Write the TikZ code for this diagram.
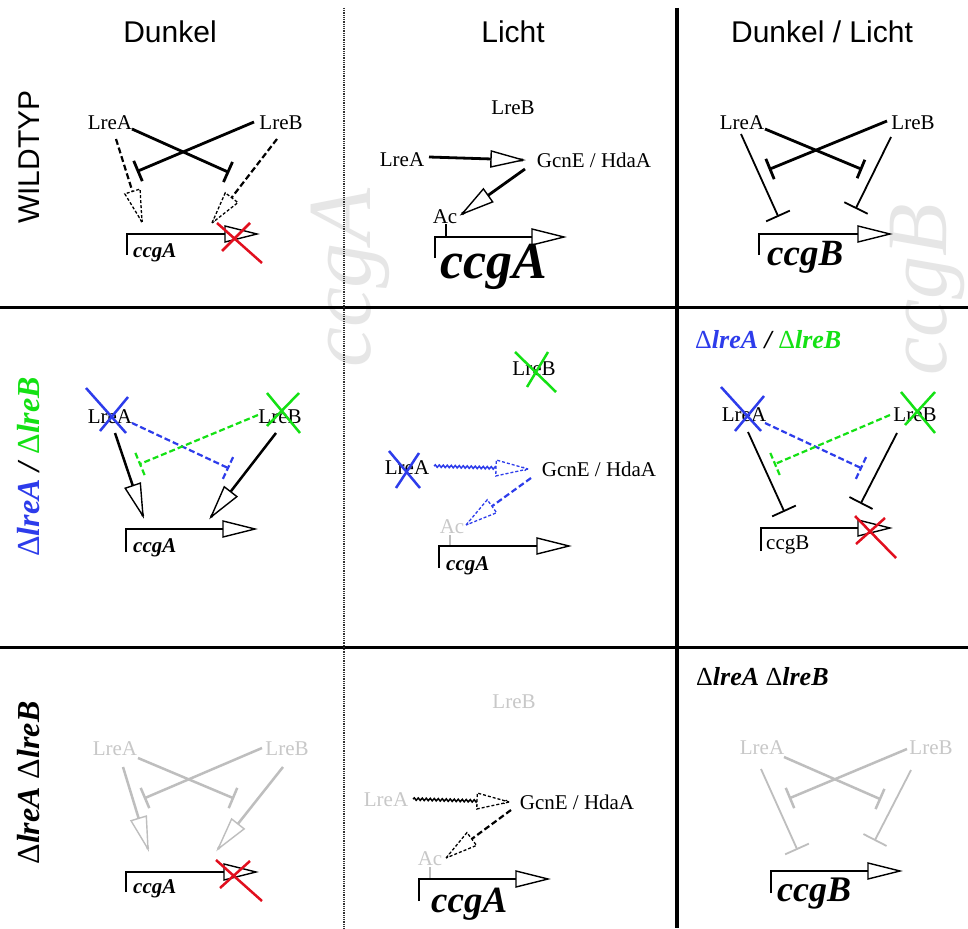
\documentclass[tikz,border=0pt]{standalone}
\usepackage{fontspec}
\setmainfont{Liberation Serif}
\newfontfamily\hdr{Liberation Sans}
\usetikzlibrary{decorations.markings,decorations.pathmorphing}
\newcommand\myfs[1]{\fontsize{#1}{#1}\selectfont}
\definecolor{myblue}{RGB}{45,60,235}
\definecolor{mygreen}{RGB}{20,225,20}
\definecolor{myred}{RGB}{225,15,30}
\definecolor{lgray}{RGB}{190,190,190}
\definecolor{tgray}{RGB}{200,200,200}
\definecolor{wmgray}{RGB}{230,230,230}
\begin{document}
\begin{tikzpicture}[x=1pt,y=-1pt,
  lbl/.style={font={\myfs{21}}, inner sep=0pt},
  glbl/.style={lbl, text=tgray},
  hd/.style={font={\hdr\myfs{30}}, inner sep=0pt},
  rot/.style={rotate=90, inner sep=0pt},
  gl/.style={font={\myfs{21}\bfseries\itshape}, anchor=base west, inner sep=0pt},
  wm/.style={rotate=90, font={\myfs{90}\itshape}, text=wmgray, inner sep=0pt, anchor=base},
  thk/.style={line width=2.8pt},
  thn/.style={line width=1.8pt},
  dsh/.style={line width=2.2pt, dash pattern=on 6pt off 3pt},
  inh/.style={postaction={decoration={markings, mark=at position 1 with {\draw (0,-#1)--(0,#1);}}, decorate}},
  inh/.default=11,
  ohead/.style={postaction={decoration={markings, mark=at position 1 with {\draw[line width=1.4pt, solid, fill=white, line join=miter] (0,0)--(-32,8)--(-32,-8)--cycle;}}, decorate}},
  dhead/.style={postaction={decoration={markings, mark=at position 1 with {\draw[line width=1.3pt, dash pattern=on 3pt off 2pt, fill=white, line join=miter] (0,0)--(-32,8)--(-32,-8)--cycle;}}, decorate}},
  wavy/.style={postaction={draw, decorate, decoration={snake, amplitude=1.2pt, segment length=4pt}}},
  gene/.style={line width=2.8pt, ohead},
  rx/.style={myred, line width=2.5pt},
  bx/.style={myblue, line width=2.5pt},
  gx/.style={mygreen, line width=2.5pt}
]
\useasboundingbox (0,0) rectangle (968,928);
\fill[white] (0,0) rectangle (968,928);
% watermarks
\node[wm] (wmA) at (370,278) {ccgA};
\node[wm, font={\myfs{86}\itshape}] (wmB) at (946,290) {ccgB};
% grid
\draw[line width=3pt] (0,307) -- (968,307);
\draw[line width=3pt] (0,647) -- (968,647);
\draw[line width=2pt, black!80, dash pattern=on 0.9pt off 0.9pt] (344,8) -- (344,928);
\draw[line width=4pt] (677,8) -- (677,928);
% headers
\node[hd] (h1) at (170,32) {Dunkel};
\node[hd] (h2) at (513,32) {Licht};
\node[hd] (h3) at (822,32) {Dunkel / Licht};
% row labels
\node[rot, font={\hdr\myfs{30}}] (r1) at (29,157) {WILDTYP};
\node[rot, font={\myfs{32}\bfseries\itshape}] (r2) at (29,467) {\textcolor{myblue}{{\normalfont Δ}lreA} / \textcolor{mygreen}{{\normalfont Δ}lreB}};
\node[rot, font={\myfs{32}\bfseries\itshape}] (r3) at (29,783) {{\normalfont Δ}lreA {\normalfont Δ}lreB};

% ---------- cell 1,1
\node[lbl] (A11) at (110,123) {LreA};
\node[lbl] (B11) at (281,123) {LreB};
\coordinate (A11i) at (132,129); \coordinate (A11j) at (228,172);
\coordinate (B11i) at (254,122); \coordinate (B11j) at (138,171);
\coordinate (A11d) at (116,139); \coordinate (A11t) at (142,222);
\coordinate (B11d) at (277,139); \coordinate (B11t) at (212,223);
\coordinate (P11) at (127,255); \coordinate (T11) at (257,234);
\draw[thk, inh] (A11i) -- (A11j);
\draw[thk, inh] (B11i) -- (B11j);
\draw[dsh, dhead] (A11d) -- (A11t);
\draw[dsh, dhead] (B11d) -- (B11t);
\draw[gene] (P11) |- (T11);
\node[gl] (g11) at (133,257) {ccgA};
\draw[rx] (217,223) -- (262,263) (250,223) -- (222,251);

% ---------- cell 1,2
\node[lbl] (B12) at (513,108) {LreB};
\node[lbl] (A12) at (402,160) {LreA};
\node[lbl] (G12) at (594,160) {GcnE / HdaA};
\node[lbl] (Ac12) at (445,217) {Ac};
\coordinate (A12o) at (429,157); \coordinate (G12i) at (523,160);
\coordinate (G12o) at (525,169); \coordinate (Ac12i) at (462,214);
\coordinate (Ac12b) at (446,224); \coordinate (Ac12c) at (446,237);
\coordinate (P12) at (435,258); \coordinate (T12) at (564,237);
\draw[thk, ohead] (A12o) -- (G12i);
\draw[thk, ohead] (G12o) -- (Ac12i);
\draw[thn] (Ac12b) -- (Ac12c);
\draw[gene] (P12) |- (T12);
\node[gl, font={\myfs{52}\bfseries\itshape}] (g12) at (440,278) {ccgA};

% ---------- cell 1,3
\node[lbl] (A13) at (742,123) {LreA};
\node[lbl] (B13) at (913,123) {LreB};
\coordinate (A13i) at (765,129); \coordinate (A13j) at (861,169);
\coordinate (B13i) at (887,121); \coordinate (B13j) at (770,169);
\coordinate (A13d) at (741,134); \coordinate (A13t) at (778,216);
\coordinate (B13d) at (891,137); \coordinate (B13t) at (856,208);
\coordinate (P13) at (759,255); \coordinate (T13) at (890,234);
\draw[thk, inh=10] (A13i) -- (A13j);
\draw[thk, inh=11] (B13i) -- (B13j);
\draw[thn, inh=13] (A13d) -- (A13t);
\draw[thn, inh=13] (B13d) -- (B13t);
\draw[gene] (P13) |- (T13);
\node[gl, font={\myfs{37}\bfseries\itshape}] (g13) at (767,265) {ccgB};

% ---------- cell 2,1
\node[lbl] (A21) at (110,417) {LreA};
\node[lbl] (B21) at (280,417) {LreB};
\draw[bx] (86,388) -- (126,433) (128,397) -- (100,431);
\draw[gx] (267,393) -- (300,433) (299,393) -- (267,426);
\coordinate (A21i) at (132,423); \coordinate (A21j) at (228,468);
\coordinate (B21i) at (258,415); \coordinate (B21j) at (140,464);
\coordinate (A21d) at (115,433); \coordinate (A21t) at (143,516);
\coordinate (B21d) at (276,433); \coordinate (B21t) at (211,517);
\coordinate (P21) at (126,552); \coordinate (T21) at (255,529);
\draw[dsh, myblue, inh=12] (A21i) -- (A21j);
\draw[dsh, mygreen, inh=12] (B21i) -- (B21j);
\draw[line width=2.5pt, ohead] (A21d) -- (A21t);
\draw[line width=2.5pt, ohead] (B21d) -- (B21t);
\draw[gene] (P21) |- (T21);
\node[gl] (g21) at (133,552) {ccgA};

% ---------- cell 2,2
\node[lbl] (B22) at (534,369) {LreB};
\draw[gx] (515,352) -- (556,392) (548,352) -- (527,387);
\node[lbl] (A22) at (407,468) {LreA};
\draw[bx] (389,451) -- (420,488) (419,453) -- (396,488);
\node[lbl] (G22) at (599,469) {GcnE / HdaA};
\node[glbl] (Ac22) at (452,527) {Ac};
\coordinate (A22o) at (434,466); \coordinate (G22i) at (528,469);
\coordinate (G22o) at (531,478); \coordinate (Ac22i) at (466,525);
\coordinate (Ac22b) at (450,535); \coordinate (Ac22c) at (450,546);
\coordinate (P22) at (439,568); \coordinate (T22) at (569,546);
\path[myblue, line width=1.5pt, wavy, dhead] (A22o) -- (G22i);
\draw[dsh, myblue, dhead] (G22o) -- (Ac22i);
\draw[thn, lgray] (Ac22b) -- (Ac22c);
\draw[gene] (P22) |- (T22);
\node[gl] (g22) at (446,570) {ccgA};

% ---------- cell 2,3
\node[font={\myfs{26}\bfseries\itshape}, anchor=west, inner sep=0pt] (l23) at (695,340) {\textcolor{myblue}{{\normalfont Δ}lreA} / \textcolor{mygreen}{{\normalfont Δ}lreB}};
\node[lbl] (A23) at (744,415) {LreA};
\draw[bx] (721,387) -- (761,431) (764,396) -- (735,431);
\node[lbl] (B23) at (915,415) {LreB};
\draw[gx] (901,392) -- (935,433) (935,392) -- (905,425);
\coordinate (A23i) at (765,423); \coordinate (A23j) at (861,468);
\coordinate (B23i) at (890,415); \coordinate (B23j) at (775,464);
\coordinate (A23d) at (748,432); \coordinate (A23t) at (784,511);
\coordinate (B23d) at (897,433); \coordinate (B23t) at (861,503);
\coordinate (P23) at (761,551); \coordinate (T23) at (890,528);
\draw[dsh, myblue, inh=12] (A23i) -- (A23j);
\draw[dsh, mygreen, inh=12] (B23i) -- (B23j);
\draw[thn, inh=13] (A23d) -- (A23t);
\draw[thn, inh=13] (B23d) -- (B23t);
\draw[gene] (P23) |- (T23);
\node[lbl, anchor=west] (g23) at (766,545) {ccgB};
\draw[rx] (855,516) -- (896,558) (885,518) -- (856,544);

% ---------- cell 3,1
\node[glbl] (A31) at (115,749) {LreA};
\node[glbl] (B31) at (287,749) {LreB};
\coordinate (A31i) at (138,758); \coordinate (A31j) at (233,798);
\coordinate (B31i) at (262,748); \coordinate (B31j) at (145,798);
\coordinate (A31d) at (123,767); \coordinate (A31t) at (148,849);
\coordinate (B31d) at (283,767); \coordinate (B31t) at (218,849);
\coordinate (P31) at (126,892); \coordinate (T31) at (256,872);
\draw[line width=2.5pt, lgray, inh] (A31i) -- (A31j);
\draw[line width=2.5pt, lgray, inh] (B31i) -- (B31j);
\draw[line width=2.5pt, lgray, ohead] (A31d) -- (A31t);
\draw[line width=2.5pt, lgray, ohead] (B31d) -- (B31t);
\draw[gene] (P31) |- (T31);
\node[gl] (g31) at (133,893) {ccgA};
\draw[rx] (216,860) -- (262,901) (250,861) -- (220,888);

% ---------- cell 3,2
\node[glbl] (B32) at (514,702) {LreB};
\node[glbl] (A32) at (386,800) {LreA};
\node[lbl] (G32) at (577,802) {GcnE / HdaA};
\node[glbl] (Ac32) at (430,859) {Ac};
\coordinate (A32o) at (413,799); \coordinate (G32i) at (509,802);
\coordinate (G32o) at (511,810); \coordinate (Ac32i) at (446,858);
\coordinate (Ac32b) at (430,867); \coordinate (Ac32c) at (430,879);
\coordinate (P32) at (419,901); \coordinate (T32) at (548,879);
\path[black, line width=1.5pt, wavy, dhead] (A32o) -- (G32i);
\draw[dsh, dhead] (G32o) -- (Ac32i);
\draw[thn, lgray] (Ac32b) -- (Ac32c);
\draw[gene] (P32) |- (T32);
\node[gl, font={\myfs{37}\bfseries\itshape}] (g32) at (431,912) {ccgA};

% ---------- cell 3,3
\node[font={\myfs{26}\bfseries\itshape}, anchor=west, inner sep=0pt] (l33) at (696,677) {{\normalfont Δ}lreA {\normalfont Δ}lreB};
\node[glbl] (A33) at (762,748) {LreA};
\node[glbl] (B33) at (931,748) {LreB};
\coordinate (A33i) at (784,757); \coordinate (A33j) at (880,799);
\coordinate (B33i) at (907,749); \coordinate (B33j) at (790,798);
\coordinate (A33d) at (761,769); \coordinate (A33t) at (797,849);
\coordinate (B33d) at (911,770); \coordinate (B33t) at (875,840);
\coordinate (P33) at (771,893); \coordinate (T33) at (900,871);
\draw[line width=2.5pt, lgray, inh] (A33i) -- (A33j);
\draw[line width=2.5pt, lgray, inh] (B33i) -- (B33j);
\draw[thn, lgray, inh=13] (A33d) -- (A33t);
\draw[thn, lgray, inh=13] (B33d) -- (B33t);
\draw[gene] (P33) |- (T33);
\node[gl, font={\myfs{36}\bfseries\itshape}] (g33) at (777,901) {ccgB};
\end{tikzpicture}
\end{document}
